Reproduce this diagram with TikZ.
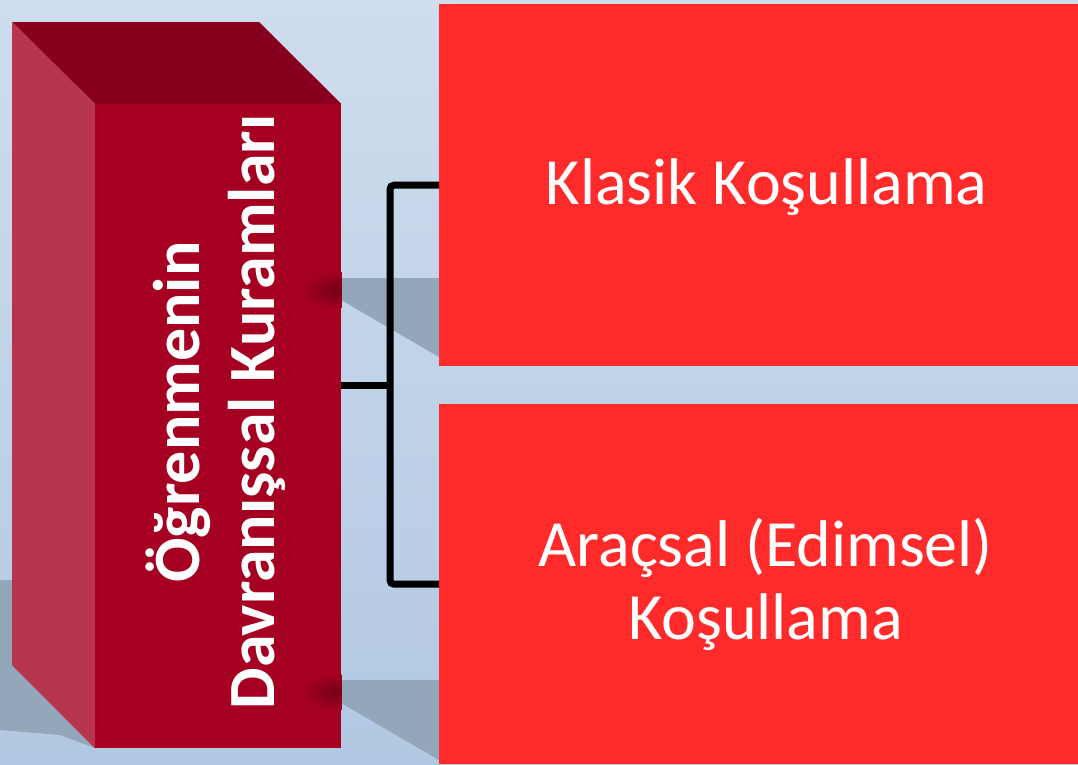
\documentclass[tikz,border=0pt]{standalone}
\usepackage{fontspec}
\setmainfont{Carlito}
\usepackage{xcolor}
\usetikzlibrary{positioning,calc}

\definecolor{bgtop}{HTML}{CFDDEE}
\definecolor{bgbottom}{HTML}{B2C8E2}
\definecolor{cubefront}{HTML}{A50021}
\definecolor{cubetop}{HTML}{88001E}
\definecolor{cubeside}{HTML}{B8354E}
\definecolor{boxred}{HTML}{FF2B2B}
\definecolor{shadowgray}{HTML}{93A6BA}

\begin{document}
\begin{tikzpicture}[x=1pt, y=-1pt,
    item/.style={rectangle, fill=boxred, minimum width=639pt, inner sep=0pt},
    itemtext/.style={text=white, font=\fontsize{66}{73}\selectfont, align=center, inner sep=0pt},
    cubeface/.style={rectangle, fill=cubefront, minimum width=246pt, minimum height=644pt, inner sep=0pt},
    title/.style={text=white, font=\fontsize{66}{75}\selectfont\bfseries, align=center, rotate=90, inner sep=0pt},
    band/.style={fill=shadowgray},
    conn/.style={line width=7pt, draw=black, rounded corners=4pt}
]
    \useasboundingbox (0,0) rectangle (1078,764);
    \fill[top color=bgtop, bottom color=bgbottom] (0,0) rectangle (1078,764);

    % shadows on the floor
    \fill[band] (330,278) -- (439,278) -- (439,357) -- (341,300) -- (330,300) -- cycle;
    \fill[band] (330,680) -- (439,680) -- (439,760) -- (341,703) -- (330,703) -- cycle;
    \fill[band] (0,580) -- (20,580) -- (95,748) -- (60,735) -- (0,730) -- cycle;

    % the box
    \node (face) [cubeface, anchor=north west] at (95,104) {};
    \fill[cubetop] (face.north west) -- (12,22) -- (259,22) -- (face.north east) -- cycle;
    \fill[cubeside] (face.north west) -- (12,22) -- (12,665) -- (face.south west) -- cycle;
    \begin{scope}
        \clip (face.north west) rectangle (face.south east);
        \shade[inner color=cubetop!85!black, outer color=cubefront] (336,290) ellipse (34pt and 18pt);
        \shade[inner color=cubetop!85!black, outer color=cubefront] (336,692) ellipse (34pt and 18pt);
    \end{scope}
    \node (theories) [title] at (216,412) {Öğrenmenin\\Davranışsal Kuramları};

    \node (classical) [item, minimum height=362pt, anchor=north west] at (439,4) {};
    \node (operant) [item, minimum height=360pt, anchor=north west] at (439,404) {};
    \node (classicaltext) [itemtext] at ([xshift=8pt,yshift=-2pt]classical.center) {Klasik Koşullama};
    \node (operanttext) [itemtext] at ([xshift=7pt]operant.center) {Araçsal (Edimsel)\\Koşullama};

    \coordinate (hub) at (390,385);
    \draw [conn] (classical.west) -| (hub) |- (operant.west);
    \draw [conn] (hub) -- (face.east |- hub);
\end{tikzpicture}
\end{document}
